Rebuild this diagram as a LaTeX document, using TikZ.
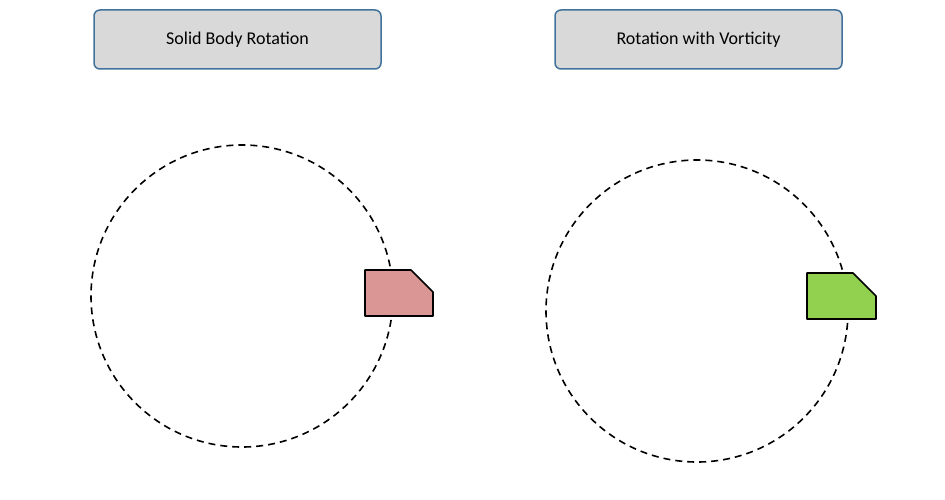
\documentclass[tikz,border=0pt]{standalone}
\usepackage{fontspec}
\setmainfont{Carlito}
\begin{document}
\begin{tikzpicture}[x=1pt,y=-1pt,
  title/.style={draw=black!30!blue!50!gray,line width=1.5pt,fill=black!15,rounded corners=6pt,minimum width=287pt,minimum height=59pt,font=\fontsize{18}{20}\selectfont},
  path/.style={dashed,line width=1.6pt,dash pattern=on 7pt off 5pt},
  blob/.style={line width=1.6pt,line join=round}]
\useasboundingbox (0,0) rectangle (945,500);
\definecolor{bc}{HTML}{41719C}
\node[title,draw=bc] (t1) at (237.5,39.5) {Solid Body Rotation};
\node[title,draw=bc] (t2) at (698.5,39.5) {Rotation with Vorticity};
\draw[path] (242,296) circle (151);
\draw[path] (697,311) circle (151);
\draw[blob,fill={rgb,255:red,217;green,150;blue,148}] (365,270) -- (411,270) -- (433,292) -- (433,316) -- (365,316) -- cycle;
\draw[blob,fill={rgb,255:red,146;green,208;blue,80}] (807,273) -- (853,273) -- (876,296) -- (876,319) -- (807,319) -- cycle;
\end{tikzpicture}
\end{document}
